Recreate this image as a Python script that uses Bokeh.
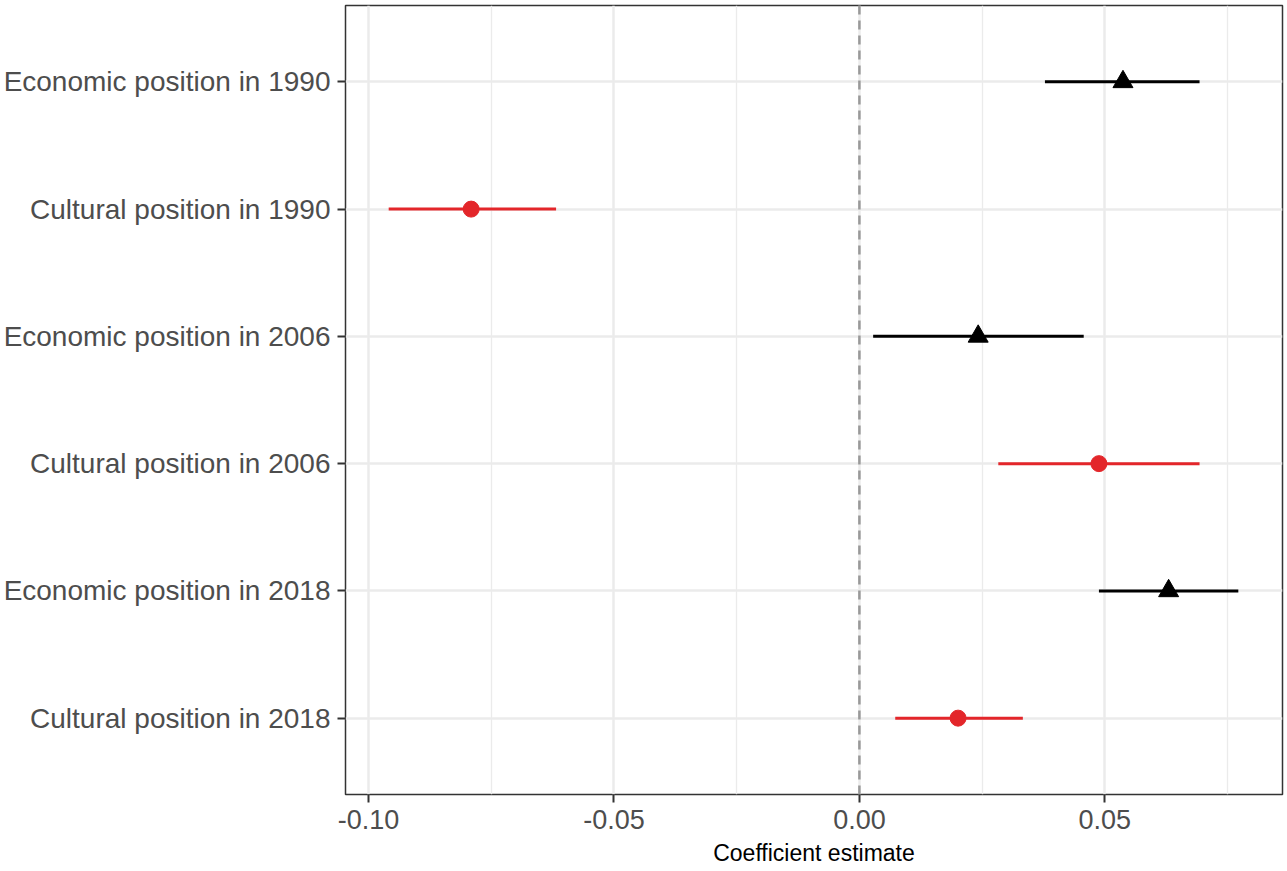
from bokeh.plotting import figure
from bokeh.models import Range1d, FixedTicker, Span
from bokeh.embed import file_html
from bokeh.resources import INLINE

labels = ["Economic position in 1990", "Cultural position in 1990",
          "Economic position in 2006", "Cultural position in 2006",
          "Economic position in 2018", "Cultural position in 2018"]
estimate = [0.0537, -0.0791, 0.0242, 0.0488, 0.0630, 0.0201]
lower = [0.0378, -0.0959, 0.0028, 0.0283, 0.0488, 0.0073]
upper = [0.0693, -0.0618, 0.0457, 0.0693, 0.0772, 0.0333]
kind = ["Economic", "Cultural", "Economic", "Cultural", "Economic", "Cultural"]

x_ticks = [-0.10, -0.05, 0.00, 0.05]
x_tick_labels = ["-0.10", "-0.05", "0.00", "0.05"]
x_minor = [-0.075, -0.025, 0.025, 0.075]

colors = {"Economic": "black", "Cultural": "#E3262A"}
markers = {"Economic": "triangle", "Cultural": "circle"}

n = len(labels)
ypos = [n - i for i in range(n)]

p = figure(width=1284, height=869, output_backend="svg", toolbar_location=None, tools="",
           x_range=Range1d(-0.1047, 0.0862), y_range=Range1d(0.4, n + 0.6),
           min_border_left=344, min_border_right=2, min_border_top=5, min_border_bottom=75)

p.outline_line_color = "#333333"
p.outline_line_width = 1.5
p.background_fill_color = "white"
p.border_fill_color = "white"

# grid
p.xgrid.ticker = FixedTicker(ticks=x_ticks, minor_ticks=x_minor)
p.xgrid.grid_line_color = "#EBEBEB"
p.xgrid.grid_line_width = 2.5
p.xgrid.minor_grid_line_color = "#EBEBEB"
p.xgrid.minor_grid_line_width = 1.3
p.ygrid.ticker = FixedTicker(ticks=ypos)
p.ygrid.grid_line_color = "#EBEBEB"
p.ygrid.grid_line_width = 2.5

# axes
p.xaxis.ticker = FixedTicker(ticks=x_ticks)
p.xaxis.major_label_overrides = {t: s for t, s in zip(x_ticks, x_tick_labels)}
p.yaxis.ticker = FixedTicker(ticks=ypos)
p.yaxis.major_label_overrides = {y: s for y, s in zip(ypos, labels)}
for ax in (p.xaxis, p.yaxis):
    ax.axis_line_color = None
    ax.major_tick_line_color = "#333333"
    ax.major_tick_line_width = 2
    ax.major_tick_out = 8
    ax.major_tick_in = 0
    ax.minor_tick_line_color = None
    ax.major_label_text_color = "#4D4D4D"
    ax.major_label_text_font = "Liberation Sans"
p.yaxis.major_label_text_font_size = "28px"
p.xaxis.major_label_text_font_size = "27px"
p.yaxis.major_label_standoff = 7
p.xaxis.major_label_standoff = 7
p.xaxis.axis_label = "Coefficient estimate"
p.xaxis.axis_label_text_font = "Liberation Sans"
p.xaxis.axis_label_text_font_style = "normal"
p.xaxis.axis_label_text_font_size = "23px"
p.xaxis.axis_label_text_color = "black"
p.xaxis.axis_label_standoff = 8

p.add_layout(Span(location=0, dimension="height", line_color="#999999",
                  line_width=2.5, line_dash="9 6"))

for k in ("Economic", "Cultural"):
    idx = [i for i in range(n) if kind[i] == k]
    ys = [ypos[i] for i in idx]
    p.segment(x0=[lower[i] for i in idx], x1=[upper[i] for i in idx], y0=ys, y1=ys,
              line_color=colors[k], line_width=3)
    p.scatter(x=[estimate[i] for i in idx], y=ys, marker=markers[k],
              size=20 if k == "Economic" else 16,
              fill_color=colors[k], line_color=colors[k], line_width=1)

open("out.html", "w").write(file_html(p, INLINE))
